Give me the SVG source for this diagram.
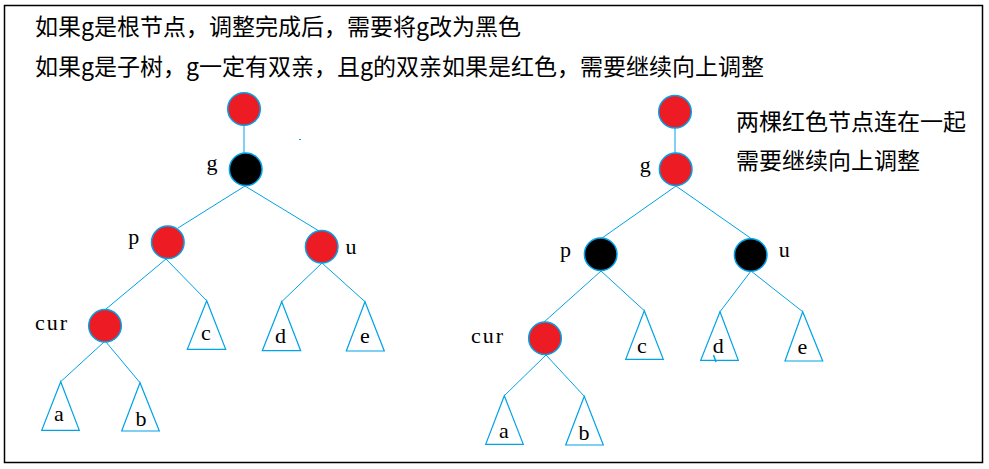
<svg xmlns="http://www.w3.org/2000/svg" width="989" height="469" viewBox="0 0 989 469">
<style>
.frame{fill:#fff;stroke:#000;stroke-width:1.5}
.zh{font-family:"Noto Sans CJK SC","Noto Sans",sans-serif;font-size:23px;fill:#000}
.lbl{font-family:"Liberation Serif",serif;font-size:22px;fill:#000;text-anchor:middle}
.cur{font-family:"Liberation Serif",serif;font-size:22px;fill:#000;letter-spacing:2px}
.red{fill:#ED1C24;stroke:#00A2E8;stroke-width:1.5}
.blk{fill:#000;stroke:#00A2E8;stroke-width:1.5}
.tri{fill:none;stroke:#00A2E8;stroke-width:1.2}
#edges line{stroke:#00A2E8;stroke-width:1}
</style>
<rect class="frame" x="4.5" y="5.5" width="978" height="457"/>
<text class="zh" x="35" y="35">如果g是根节点，调整完成后，需要将g改为黑色</text>
<text class="zh" x="35" y="75">如果g是子树，g一定有双亲，且g的双亲如果是红色，需要继续向上调整</text>
<text class="zh" x="736" y="130">两棵红色节点连在一起</text>
<text class="zh" x="736" y="168.5">需要继续向上调整</text>
<g id="edges">
<line x1="244" y1="126" x2="244" y2="153"/>
<line x1="245" y1="186" x2="178" y2="228"/>
<line x1="245" y1="186" x2="319" y2="231"/>
<line x1="166" y1="259" x2="106" y2="309"/>
<line x1="166" y1="259" x2="206.7" y2="300.7"/>
<line x1="322" y1="263" x2="281.7" y2="301.7"/>
<line x1="322" y1="263" x2="365" y2="301.7"/>
<line x1="104" y1="342" x2="60.7" y2="381.7"/>
<line x1="106" y1="342" x2="140" y2="382.7"/>
<line x1="299" y1="139.5" x2="301" y2="139.5"/>
<line x1="675" y1="128" x2="675" y2="153"/>
<line x1="676" y1="186" x2="601.7" y2="238.3"/>
<line x1="676" y1="186" x2="752.3" y2="239.3"/>
<line x1="601" y1="271" x2="543.3" y2="322.7"/>
<line x1="601" y1="271" x2="644.3" y2="310.7"/>
<line x1="751" y1="271" x2="720" y2="311.7"/>
<line x1="751" y1="271" x2="802.7" y2="311.7"/>
<line x1="546" y1="355" x2="504.3" y2="395.7"/>
<line x1="546" y1="355" x2="584.3" y2="396.3"/>
<line x1="713.5" y1="355" x2="716" y2="362" style="stroke-width:1.5"/>
</g>
<g id="L_root"><circle class="red" cx="244" cy="109" r="16.3"/></g>
<g id="L_g"><circle class="blk" cx="245.7" cy="169.3" r="16.3"/><text class="lbl" x="212" y="170">g</text></g>
<g id="L_p"><circle class="red" cx="167.8" cy="242.3" r="16.3"/><text class="lbl" x="133.8" y="243.5">p</text></g>
<g id="L_u"><circle class="red" cx="321.7" cy="246.7" r="16.3"/><text class="lbl" x="351" y="254">u</text></g>
<g id="L_cur"><circle class="red" cx="105" cy="325.7" r="16.3"/><text class="cur" x="35" y="330">cur</text></g>
<g id="L_c"><polygon class="tri" points="206.7,300.7 187.3,349.3 225.7,349.3"/><text class="lbl" x="206" y="340">c</text></g>
<g id="L_d"><polygon class="tri" points="281.7,301.7 262.3,350.7 300.7,350.7"/><text class="lbl" x="280.5" y="343">d</text></g>
<g id="L_e"><polygon class="tri" points="365,301.7 346.3,351 384.3,351"/><text class="lbl" x="365" y="343.3">e</text></g>
<g id="L_a"><polygon class="tri" points="60.7,381.7 41.7,430.3 79.3,430.3"/><text class="lbl" x="59" y="420.7">a</text></g>
<g id="L_b"><polygon class="tri" points="140,382.7 121.7,431 159.3,431"/><text class="lbl" x="141" y="426">b</text></g>
<g id="R_root"><circle class="red" cx="675" cy="111.7" r="16.3"/></g>
<g id="R_g"><circle class="red" cx="675.7" cy="169.3" r="16.3"/><text class="lbl" x="645.3" y="172">g</text></g>
<g id="R_p"><circle class="blk" cx="600.7" cy="254.3" r="16.3"/><text class="lbl" x="565.5" y="256.5">p</text></g>
<g id="R_u"><circle class="blk" cx="750.7" cy="255" r="16.3"/><text class="lbl" x="784.3" y="256.7">u</text></g>
<g id="R_cur"><circle class="red" cx="545" cy="338.3" r="16.3"/><text class="cur" x="471" y="342.7">cur</text></g>
<g id="R_c"><polygon class="tri" points="644.3,310.7 625.7,359.3 663.3,359.3"/><text class="lbl" x="642" y="352.7">c</text></g>
<g id="R_d"><polygon class="tri" points="720,311.7 700.7,360.3 738.3,360.3"/><text class="lbl" x="718.3" y="353.3">d</text></g>
<g id="R_e"><polygon class="tri" points="802.7,311.7 785,361 822.7,361"/><text class="lbl" x="802.3" y="354">e</text></g>
<g id="R_a"><polygon class="tri" points="504.3,395.7 485.7,444.3 523.3,444.3"/><text class="lbl" x="504" y="438.3">a</text></g>
<g id="R_b"><polygon class="tri" points="584.3,396.3 565.7,445 603.3,445"/><text class="lbl" x="584" y="440">b</text></g>
</svg>
